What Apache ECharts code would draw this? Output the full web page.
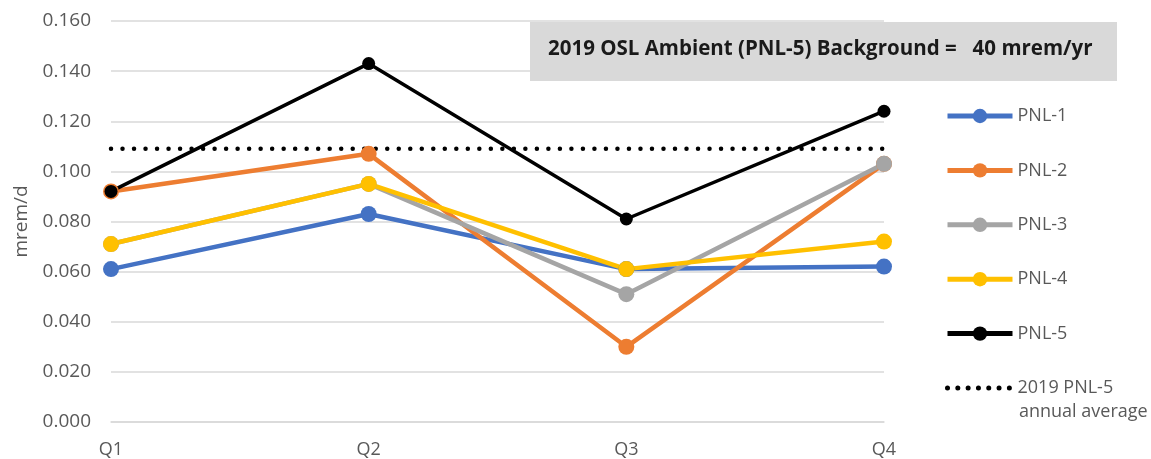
<!DOCTYPE html>
<html>
<head>
<meta charset="utf-8">
<script src="https://cdn.jsdelivr.net/npm/echarts@6/dist/echarts.min.js"></script>
<style>
  html, body { margin: 0; padding: 0; background: #fff; }
  #chart { width: 1151px; height: 459px; }
</style>
</head>
<body>
<div id="chart"></div>
<script>
// quarterly OSL dose rates, mrem/d
var quarters = ['Q1', 'Q2', 'Q3', 'Q4'];
var pnl1 = [0.061, 0.083, 0.061, 0.062];
var pnl2 = [0.092, 0.107, 0.030, 0.103];
var pnl3 = [0.071, 0.095, 0.051, 0.103];
var pnl4 = [0.071, 0.095, 0.061, 0.072];
var pnl5 = [0.092, 0.143, 0.081, 0.124];
var pnl5Avg = [0.109, 0.109, 0.109, 0.109];
var yTicks = { min: 0, max: 0.16, step: 0.02 };

var font = '"Open Sans", "Noto Sans", sans-serif';
var txtColor = '#595959';
var avgName = '2019 PNL-5 annual average';
var dots = [0.01, 11.5];

function lineSeries(name, data, color, width, size) {
    return {
        name: name,
        type: 'line',
        data: data,
        symbol: 'circle',
        symbolSize: size,
        lineStyle: { color: color, width: width },
        itemStyle: { color: color },
        emphasis: { disabled: true }
    };
}

var chart = echarts.init(document.getElementById('chart'));
var option = {
    animation: false,
    textStyle: { fontFamily: font },
    grid: { left: 111, right: 267, top: 21, bottom: 37 },
    xAxis: {
        type: 'category',
        data: quarters,
        boundaryGap: false,
        axisLine: { lineStyle: { color: '#d9d9d9', width: 1.5 } },
        axisTick: { show: false },
        axisLabel: { color: txtColor, fontSize: 18, margin: 19, fontFamily: font }
    },
    yAxis: {
        type: 'value',
        min: yTicks.min,
        max: yTicks.max,
        interval: yTicks.step,
        name: 'mrem/d',
        nameLocation: 'middle',
        nameGap: 80,
        nameTextStyle: { color: txtColor, fontSize: 19, fontFamily: font },
        axisLine: { show: false },
        axisTick: { show: false },
        splitLine: { lineStyle: { color: '#d9d9d9', width: 1.5 } },
        axisLabel: {
            color: txtColor, fontSize: 19, margin: 20, fontFamily: font,
            formatter: function (v) { return v.toFixed(3); }
        }
    },
    legend: {
        orient: 'vertical',
        left: 940,
        top: 99,
        height: 360,
        itemWidth: 65,
        itemHeight: 18,
        itemGap: 30.4,
        textStyle: { color: txtColor, fontSize: 18, fontFamily: font, lineHeight: 24 },
        formatter: function (name) {
            return name === avgName ? '2019 PNL-5' : name;
        },
        data: [
            { name: 'PNL-1', lineStyle: { width: 5 } },
            { name: 'PNL-2', lineStyle: { width: 5 } },
            { name: 'PNL-3', lineStyle: { width: 5 } },
            { name: 'PNL-4', lineStyle: { width: 5 } },
            { name: 'PNL-5', lineStyle: { width: 5 } },
            {
                name: avgName,
                lineStyle: { width: 5, type: [0.01, 10.3], cap: 'round' },
                itemStyle: { color: 'rgba(0,0,0,0)', borderWidth: 0 }
            }
        ]
    },
    graphic: [{
        type: 'group',
        left: 530,
        top: 22,
        children: [{
            type: 'rect',
            shape: { x: 0, y: 0, width: 587, height: 59 },
            style: { fill: '#d9d9d9' }
        }, {
            type: 'text',
            x: 18,
            y: 27,
            style: {
                text: '2019 OSL Ambient (PNL-5) Background =   40 mrem/yr',
                font: 'bold 20.5px ' + font,
                fill: '#1a1a1a',
                textVerticalAlign: 'middle'
            }
        }]
    }, {
        // second line of the average legend entry
        type: 'text',
        left: 1019,
        top: 403,
        style: {
            text: 'annual average',
            font: '18px ' + font,
            fill: txtColor
        }
    }],
    series: [
        lineSeries('PNL-1', pnl1, '#4472C4', 4.5, 16),
        lineSeries('PNL-2', pnl2, '#ED7D31', 4.5, 16),
        lineSeries('PNL-3', pnl3, '#A5A5A5', 4.5, 16),
        lineSeries('PNL-4', pnl4, '#FFC000', 4.5, 16),
        lineSeries('PNL-5', pnl5, '#000000', 3.5, 13),
        {
            name: avgName,
            type: 'line',
            data: pnl5Avg,
            symbol: 'none',
            lineStyle: { color: '#000', width: 4.5, type: dots, cap: 'round' },
            itemStyle: { color: '#000' },
            emphasis: { disabled: true },
            z: 1
        }
    ]
};
chart.setOption(option);
</script>
</body>
</html>
